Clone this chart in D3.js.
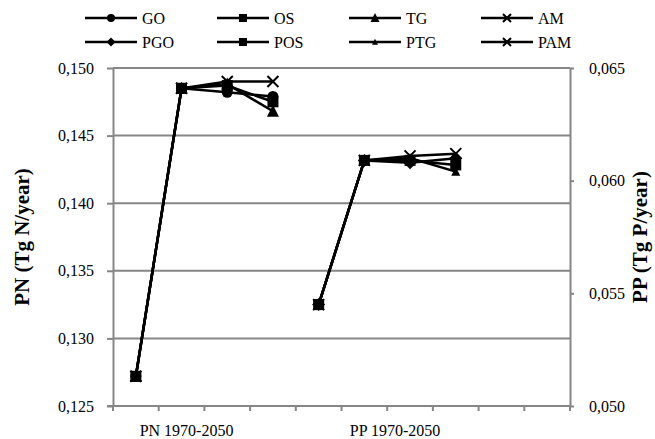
<!DOCTYPE html>
<html>
<head>
<meta charset="utf-8">
<script src="https://cdn.jsdelivr.net/npm/d3@7"></script>
<style>
  html, body { margin: 0; padding: 0; background: #fff; }
  svg { display: block; }
  text { font-family: "Liberation Serif", "Times New Roman", serif; fill: #000; }
</style>
</head>
<body>
<svg id="chart" width="655" height="439"></svg>
<script>
// Category slots along the x axis (10 equal bands; PN uses the first four, PP the next four)
const slots = d3.range(10);
const pnSlots = [0, 1, 2, 3];
const ppSlots = [4, 5, 6, 7];

// PN scenarios (Tg N/year), left axis
const GO  = [0.1272, 0.1485, 0.1482, 0.1479];
const OS  = [0.1272, 0.1485, 0.1487, 0.1475];
const TG  = [0.1272, 0.1485, 0.1488, 0.1468];
const AM  = [0.1272, 0.1485, 0.1490, 0.1490];

// PP scenarios (Tg P/year), right axis
const PGO = [0.0545, 0.0609, 0.0608, 0.0610];
const POS = [0.0545, 0.0609, 0.0609, 0.0607];
const PTG = [0.0545, 0.0609, 0.0610, 0.0604];
const PAM = [0.0545, 0.0609, 0.0611, 0.0612];

// Axis ticks and labels
const leftTicks  = [0.125, 0.130, 0.135, 0.140, 0.145, 0.150];
const rightTicks = [0.050, 0.055, 0.060, 0.065];
const groupLabels = ["PN 1970-2050", "PP 1970-2050"];
const leftTitle  = "PN (Tg N/year)";
const rightTitle = "PP (Tg P/year)";

const svg = d3.select("#chart");
const plot = { left: 113, right: 570, top: 68, bottom: 406 };
const grey = "#868686";
const fmt = v => d3.format(".3f")(v).replace(".", ",");

const x = d3.scaleBand().domain(slots).range([plot.left, plot.right]).padding(0);
const xc = i => x(i) + x.bandwidth() / 2;
const yL = d3.scaleLinear().domain([0.125, 0.150]).range([plot.bottom, plot.top]);
const yR = d3.scaleLinear().domain([0.050, 0.065]).range([plot.bottom, plot.top]);

// Horizontal gridlines on the left-axis ticks
svg.append("g").selectAll("line").data(leftTicks.filter(t => t > 0.125)).join("line")
  .attr("x1", plot.left).attr("x2", plot.right)
  .attr("y1", d => yL(d)).attr("y2", d => yL(d))
  .attr("stroke", grey).attr("stroke-width", 2);

// Left axis
const gL = svg.append("g").attr("transform", `translate(${plot.left},0)`)
  .call(d3.axisLeft(yL).tickValues(leftTicks).tickFormat(fmt).tickSizeOuter(0).tickSizeInner(6).tickPadding(13));
// Right axis
const gR = svg.append("g").attr("transform", `translate(${plot.right},0)`)
  .call(d3.axisRight(yR).tickValues(rightTicks).tickFormat(fmt).tickSizeOuter(0).tickSizeInner(4).tickPadding(15));
// Bottom axis: ticks at band boundaries
const bounds = slots.map(i => x(i)).concat([plot.right]);
const gB = svg.append("g");
gB.append("line").attr("x1", plot.left - 6).attr("x2", plot.right).attr("y1", plot.bottom).attr("y2", plot.bottom)
  .attr("stroke", grey).attr("stroke-width", 2);
gB.selectAll("line.tk").data(bounds).join("line").attr("class", "tk")
  .attr("x1", d => d).attr("x2", d => d).attr("y1", plot.bottom).attr("y2", plot.bottom + 5)
  .attr("stroke", grey).attr("stroke-width", 2);

[gL, gR].forEach(g => {
  g.select(".domain").attr("stroke", grey).attr("stroke-width", 2);
  g.selectAll(".tick line").attr("stroke", grey).attr("stroke-width", 2);
  g.selectAll(".tick text").attr("font-size", 16).attr("font-family", "Liberation Serif").attr("fill", "#000");
});

// Group labels under the x axis
const labelPos = [xc(1) + 5, xc(6) - 15];
svg.append("g").selectAll("text").data(groupLabels).join("text")
  .attr("x", (d, i) => labelPos[i]).attr("y", 436)
  .attr("text-anchor", "middle").attr("font-size", 16).text(d => d);

// Axis titles
svg.append("text").attr("transform", `translate(29,${(plot.top + plot.bottom) / 2}) rotate(-90)`)
  .attr("text-anchor", "middle").attr("font-size", 21).attr("font-weight", "bold").text(leftTitle);
svg.append("text").attr("transform", `translate(647,${(plot.top + plot.bottom) / 2}) rotate(-90)`)
  .attr("text-anchor", "middle").attr("font-size", 21).attr("font-weight", "bold").text(rightTitle);

// Marker shapes
function marker(g, type, s) {
  if (type === "circle") g.append("circle").attr("r", s / 2);
  else if (type === "square") g.append("rect").attr("x", -s / 2).attr("y", -s / 2).attr("width", s).attr("height", s);
  else if (type === "triangle") g.append("path").attr("d", `M0,${-s * 0.55}L${s / 2},${s * 0.45}L${-s / 2},${s * 0.45}Z`);
  else if (type === "diamond") g.append("path").attr("d", `M0,${-s / 2}L${s / 2},0L0,${s / 2}L${-s / 2},0Z`);
  else if (type === "x") g.append("path").attr("d", `M${-s / 2},${-s / 2}L${s / 2},${s / 2}M${s / 2},${-s / 2}L${-s / 2},${s / 2}`)
    .attr("fill", "none").attr("stroke", "#000").attr("stroke-width", 2);
}

const seriesList = [
  { name: "GO",  values: GO,  slots: pnSlots, y: yL, shape: "circle",   size: 11, lsize: 8 },
  { name: "OS",  values: OS,  slots: pnSlots, y: yL, shape: "square",   size: 11, lsize: 8 },
  { name: "TG",  values: TG,  slots: pnSlots, y: yL, shape: "triangle", size: 12, lsize: 9 },
  { name: "AM",  values: AM,  slots: pnSlots, y: yL, shape: "x",        size: 11, lsize: 8 },
  { name: "PGO", values: PGO, slots: ppSlots, y: yR, shape: "diamond",  size: 13, lsize: 9 },
  { name: "POS", values: POS, slots: ppSlots, y: yR, shape: "square",   size: 11, lsize: 8 },
  { name: "PTG", values: PTG, slots: ppSlots, y: yR, shape: "triangle", size: 9,  lsize: 6 },
  { name: "PAM", values: PAM, slots: ppSlots, y: yR, shape: "x",        size: 11, lsize: 8 }
];

const line = d3.line();
const gS = svg.append("g");
seriesList.forEach(s => {
  const pts = s.values.map((v, i) => [xc(s.slots[i]), s.y(v)]);
  gS.append("path").attr("d", line(pts)).attr("fill", "none").attr("stroke", "#000").attr("stroke-width", 2.5);
  pts.forEach(p => {
    const m = gS.append("g").attr("transform", `translate(${p[0]},${p[1]})`).attr("fill", "#000");
    marker(m, s.shape, s.size);
  });
});

// Legend: 4 columns x 2 rows
const legend = svg.append("g");
seriesList.forEach((s, i) => {
  const col = i % 4, row = Math.floor(i / 4);
  const lx = 85 + col * 132, ly = 18 + row * 24;
  const g = legend.append("g").attr("transform", `translate(${lx},${ly})`);
  g.append("line").attr("x1", 0).attr("x2", 52).attr("y1", 0).attr("y2", 0).attr("stroke", "#000").attr("stroke-width", 2.5);
  const m = g.append("g").attr("transform", "translate(26,0)").attr("fill", "#000");
  marker(m, s.shape, s.lsize);
  g.append("text").attr("x", 57).attr("y", 5.5).attr("font-size", 16).text(s.name);
});
</script>
</body>
</html>
